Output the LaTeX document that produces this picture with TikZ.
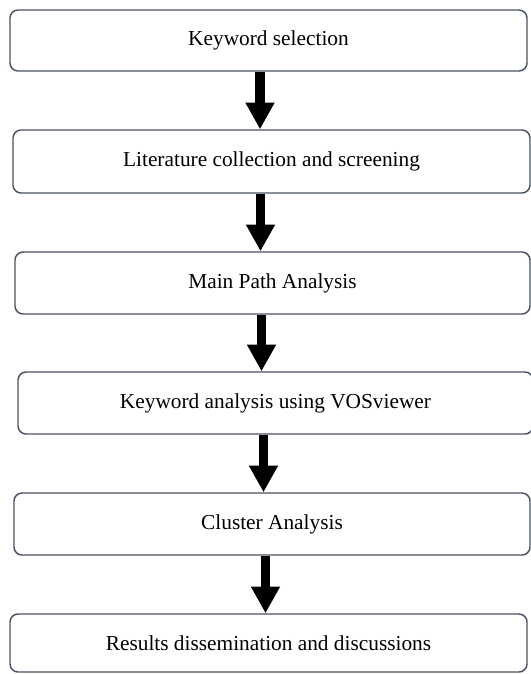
\documentclass[tikz,border=0pt]{standalone}
\usepackage{fontspec}
\setmainfont{Liberation Serif}
\usetikzlibrary{arrows.meta}
\definecolor{boxline}{HTML}{4B5363}
\begin{document}
\begin{tikzpicture}[x=0.75pt,y=-0.75pt,
  stepbox/.style={draw=boxline, line width=1.1pt, rounded corners=6pt,
    fill=white, inner sep=0pt, font=\fontsize{16}{19}\selectfont},
  flow/.style={line width=7pt, -{Triangle[width=20.5pt,length=20pt]}}]
\fill[white] (0,0) rectangle (531,674);
\useasboundingbox (0,0) rectangle (531,674);

% process steps
\node[stepbox, minimum width=387.75pt, minimum height=45.75pt] (s1) at (268.5,40.5) {Keyword selection};
\node[stepbox, minimum width=387.75pt, minimum height=47.25pt] (s2) at (271.5,161.5) {Literature collection and screening};
\node[stepbox, minimum width=386.25pt, minimum height=46.5pt] (s3) at (272.5,283) {Main Path Analysis};
\node[stepbox, minimum width=386.25pt, minimum height=46.5pt] (s4) at (275.5,403) {Keyword analysis using VOSviewer};
\node[stepbox, minimum width=387pt, minimum height=46.5pt] (s5) at (272,524) {Cluster Analysis};
\node[stepbox, minimum width=387.75pt, minimum height=43.5pt] (s6) at (268.5,643) {Results dissemination and discussions};

% arrow columns
\coordinate (c1) at (260,0);
\coordinate (c2) at (260.5,0);
\coordinate (c3) at (261.5,0);
\coordinate (c4) at (263.5,0);
\coordinate (c5) at (265.5,0);

% connectors
\draw[flow] (s1.south -| c1) -- (s2.north -| c1);
\draw[flow] (s2.south -| c2) -- (s3.north -| c2);
\draw[flow] (s3.south -| c3) -- (s4.north -| c3);
\draw[flow] (s4.south -| c4) -- (s5.north -| c4);
\draw[flow] (s5.south -| c5) -- (s6.north -| c5);
\end{tikzpicture}
\end{document}
